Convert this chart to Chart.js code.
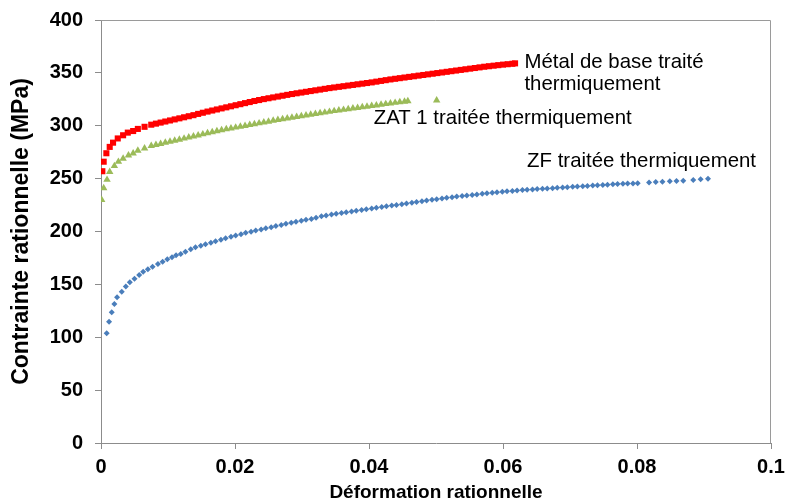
<!DOCTYPE html>
<html>
<head>
<meta charset="utf-8">
<script src="https://cdn.jsdelivr.net/npm/chart.js@4/dist/chart.umd.min.js"></script>
<style>
html,body{margin:0;padding:0;background:#fff;}
#wrap{width:786px;height:504px;}
</style>
</head>
<body>
<div id="wrap"><canvas id="c" width="786" height="504"></canvas></div>
<script>
// ---- Data ----
const xTickLabels = ['0','0.02','0.04','0.06','0.08','0.1'];
const yTickLabels = ['0','50','100','150','200','250','300','350','400'];

const seriesNames = ['Métal de base traité thermiquement','ZAT 1 traitée thermiquement','ZF traitée thermiquement'];

const redX = [0.0002,0.0004,0.0008,0.0013,0.0018,0.0025,0.0033,0.0040,0.0048,0.0055,0.0065,0.0075,
0.0082,0.0089,0.0096,0.0103,0.0110,0.0117,0.0124,0.0131,0.0138,0.0145,0.0152,0.0159,0.0166,0.0173,0.0180,0.0187,0.0194,
0.0201,0.0208,0.0215,0.0222,0.0229,0.0236,0.0243,0.0250,0.0257,0.0264,0.0271,0.0278,0.0285,0.0292,0.0299,
0.0306,0.0313,0.0320,0.0327,0.0334,0.0341,0.0348,0.0355,0.0362,0.0369,0.0376,0.0383,0.0390,0.0397,
0.0404,0.0411,0.0418,0.0425,0.0432,0.0439,0.0446,0.0453,0.0460,0.0467,0.0474,0.0481,0.0488,0.0495,
0.0502,0.0509,0.0516,0.0523,0.0530,0.0537,0.0544,0.0551,0.0558,0.0565,0.0572,0.0579,0.0586,0.0593,
0.0600,0.0607,0.0614,0.0618];
const redY = [257,266,274,280,284,288,291,293.5,295,297,299,301,
302,303,304,305,306,307,308,309,310,311.2,312.3,313.4,314.4,315.4,316.4,317.4,318.4,
319.4,320.4,321.4,322.4,323.4,324.3,325.2,326,326.8,327.6,328.4,329.2,330,330.7,331.4,
332.1,332.8,333.5,334.2,334.9,335.6,336.2,336.8,337.4,338,338.6,339.2,339.8,340.4,
341,341.7,342.4,343.1,343.8,344.4,345,345.6,346.2,346.8,347.4,348,348.6,349.2,
349.8,350.4,351,351.6,352.2,352.8,353.4,354,354.6,355.2,355.8,356.3,356.8,357.3,
357.8,358.2,358.6,359];

const greenX = [0.0001,0.0004,0.0009,0.0013,0.0020,0.0026,0.0033,0.0041,0.0048,0.0055,0.0065,0.0075,
0.0082,0.0089,0.0096,0.0103,0.0110,0.0117,0.0124,0.0131,0.0138,0.0145,0.0152,0.0159,0.0166,0.0173,0.0180,0.0187,0.0194,
0.0201,0.0208,0.0215,0.0222,0.0229,0.0236,0.0243,0.0250,0.0257,0.0264,0.0271,0.0278,0.0285,0.0292,0.0299,
0.0306,0.0313,0.0320,0.0327,0.0334,0.0341,0.0348,0.0355,0.0362,0.0369,0.0376,0.0383,0.0390,0.0397,
0.0404,0.0411,0.0418,0.0425,0.0432,0.0439,0.0446,0.0453,0.0458,0.0501];
const greenY = [230,241,249,256.5,262,266,269,272,274,276.5,278.6,281,
282,283,284,285,286,287,288,289,290,291,292,293,294,295,296,296.8,297.6,
298.4,299.2,300,300.8,301.6,302.4,303.2,304,304.8,305.6,306.3,307,307.7,308.4,309.1,
309.8,310.5,311.2,311.9,312.6,313.3,314,314.6,315.2,315.8,316.4,317,317.6,318.2,
318.8,319.4,320,320.6,321.2,321.8,322.4,322.9,323.3,324];

const blueX = [0.00085,0.0012,0.0016,0.0020,0.0024,0.0031,0.0037,0.0043,0.0050,0.0057,0.0063,0.0070,0.0077,0.0085,0.0092,0.0099,0.0106,0.0112,0.0119,0.0126,
0.0134,0.0141,0.0149,0.0156,0.0164,0.0171,0.0179,0.0186,0.0194,0.0201,0.0209,0.0216,0.0224,0.0231,0.0239,0.0246,0.0254,0.0261,0.0269,0.0276,
0.0284,0.0291,0.0299,0.0306,0.0314,0.0321,0.0329,0.0336,0.0344,0.0351,0.0359,0.0366,0.0374,0.0381,0.0389,0.0396,0.0404,0.0411,0.0419,0.0426,
0.0434,0.0441,0.0449,0.0456,0.0464,0.0471,0.0479,0.0486,0.0494,0.0501,0.0509,0.0516,0.0524,0.0531,0.0539,0.0546,0.0554,0.0561,0.0569,0.0576,
0.0584,0.0591,0.0599,0.0606,0.0614,0.0621,0.0629,0.0636,0.0644,0.0651,0.0659,0.0666,0.0674,0.0681,0.0689,0.0696,0.0704,0.0711,0.0719,0.0726,
0.0734,0.0741,0.0749,0.0756,0.0764,0.0771,0.0779,0.0786,0.0794,0.0801,
0.0818,0.0828,0.0838,0.0849,0.0859,0.0869,
0.0884,0.0895,0.0906];
const blueY = [103.7,114.7,123.6,131.4,137.8,143,148,152,155.4,158.9,162,164.2,166.7,169.3,171.5,173.7,175.6,177.5,178.7,180.9,
183.3,185,186.5,188,189.4,190.8,192.3,193.7,195,196.3,197.5,198.7,199.8,200.9,202,203,204,205.1,206.2,207.3,
208.3,209.2,210.1,211,211.8,213,214.5,215.2,216,216.8,217.4,218.2,219,219.7,220.4,221.1,221.8,222.4,223.1,223.8,
224.5,225.1,225.8,226.5,227.2,227.9,228.6,229.3,230,230.6,231.2,231.8,232.4,233,233.6,234.1,234.6,235.1,235.6,236.1,
236.6,237.1,237.6,238,238.4,238.8,239.2,239.5,239.8,240.1,240.4,240.7,241,241.3,241.6,241.9,242.2,242.5,242.8,243.1,
243.4,243.7,244,244.3,244.6,244.9,245.1,245.3,245.5,245.7,
246.3,246.7,247.1,247.4,247.7,248,
248.7,249.3,249.8];

// ---- Build chart ----
function pts(xs, ys){ return xs.map((x,i)=>({x:x, y:ys[i]})); }

const labelFont = '20.4px "Liberation Sans", Arial, sans-serif';
const seriesLabels = [
  {lines:['Métal de base traité','thermiquement'], x:0.0632, y:354.6, dy:-20.8},
  {lines:['ZAT 1 traitée thermiquement'], x:0.0407, y:301.7, dy:0},
  {lines:['ZF traitée thermiquement'], x:0.0636, y:261, dy:0}
];

const labelPlugin = {
  id:'seriesLabels',
  afterDatasetsDraw(chart){
    const {ctx, scales:{x, y}} = chart;
    ctx.save();
    ctx.font = labelFont;
    ctx.fillStyle = '#000';
    ctx.textAlign = 'left';
    ctx.textBaseline = 'alphabetic';
    seriesLabels.forEach(l=>{
      const px = x.getPixelForValue(l.x);
      l.lines.forEach((t,k)=>{
        const py = y.getPixelForValue(l.y + k*l.dy);
        ctx.fillText(t, px, py);
      });
    });
    ctx.restore();
  }
};

const framePlugin = {
  id:'frame',
  beforeDatasetsDraw(chart){
    const {ctx, chartArea:a} = chart;
    ctx.save();
    ctx.strokeStyle = '#9a9a9a';
    ctx.lineWidth = 1;
    ctx.beginPath();
    ctx.moveTo(a.left, a.top + 0.5);
    ctx.lineTo(a.right - 0.5, a.top + 0.5);
    ctx.lineTo(a.right - 0.5, a.bottom);
    ctx.stroke();
    ctx.restore();
  }
};

const tickFont = {family:'"Liberation Sans", Arial, sans-serif', size:20, weight:'bold'};
const axisGray = '#8c8c8c';

new Chart(document.getElementById('c'), {
  type:'scatter',
  data:{
    datasets:[
      {label:seriesNames[0], data:pts(redX, redY), pointStyle:'rect', pointRadius:4.3, backgroundColor:'#ff0000', borderColor:'#ff0000', borderWidth:0},
      {label:seriesNames[1], data:pts(greenX, greenY), pointStyle:'triangle', pointRadius:4.3, backgroundColor:'#9bbb59', borderColor:'#9bbb59', borderWidth:0},
      {label:seriesNames[2], data:pts(blueX, blueY), pointStyle:'rectRot', pointRadius:3, backgroundColor:'#4a7ebb', borderColor:'#4a7ebb', borderWidth:0}
    ]
  },
  options:{
    responsive:false,
    animation:false,
    events:[],
    layout:{padding:{top:20, right:15, left:0, bottom:0}},
    plugins:{legend:{display:false}, tooltip:{enabled:false}},
    scales:{
      x:{
        type:'linear', position:'bottom', min:0, max:0.1,
        afterFit(s){ s.height = 61; s.paddingLeft = 0; s.paddingRight = 0; },
        ticks:{stepSize:0.02, font:tickFont, color:'#000', padding:6,
               callback:(v,i)=>xTickLabels[i]},
        grid:{drawOnChartArea:false, drawTicks:true, tickLength:6, color:axisGray},
        border:{color:axisGray},
        title:{display:true, text:'Déformation rationnelle', color:'#000',
               font:{family:'"Liberation Sans", Arial, sans-serif', size:19, weight:'bold'}, padding:{top:9,bottom:0}}
      },
      y:{
        type:'linear', min:0, max:400,
        afterFit(s){ s.width = 101; s.paddingTop = 0; s.paddingBottom = 0; },
        ticks:{stepSize:50, font:tickFont, color:'#000', padding:12,
               callback:(v,i)=>yTickLabels[i]},
        grid:{drawOnChartArea:false, drawTicks:true, tickLength:6, color:axisGray},
        border:{color:axisGray},
        title:{display:true, text:'Contrainte rationnelle (MPa)', color:'#000',
               font:{family:'"Liberation Sans", Arial, sans-serif', size:23, weight:'bold'}, padding:{top:8,bottom:0}}
      }
    }
  },
  plugins:[framePlugin, labelPlugin]
});
</script>
</body>
</html>
